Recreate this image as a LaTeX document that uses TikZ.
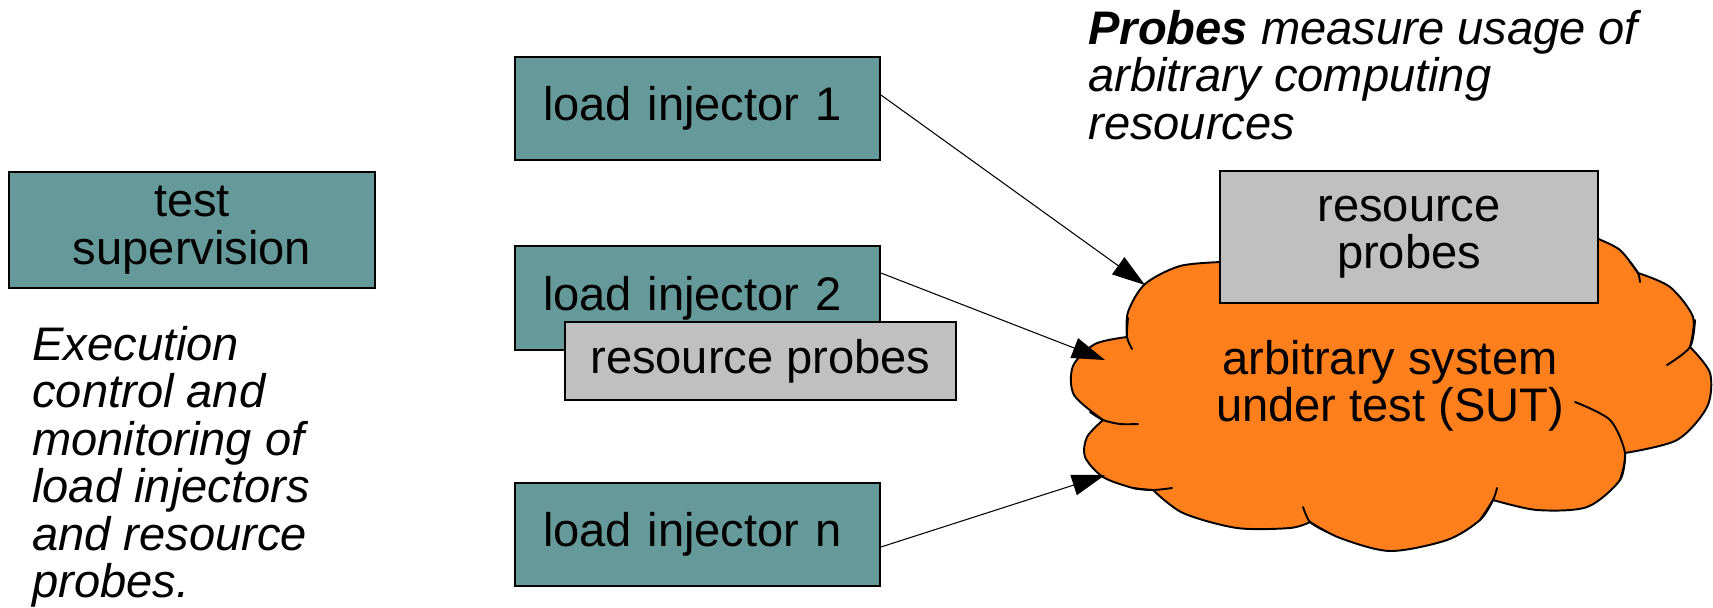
\documentclass[tikz,border=0pt]{standalone}
\usepackage{fontspec}
\setmainfont{Liberation Sans}
\usetikzlibrary{arrows.meta,calc}
\definecolor{injteal}{RGB}{102,153,153}
\definecolor{probegray}{RGB}{192,192,192}
\definecolor{sutorange}{RGB}{255,127,28}
\def\diagfont{\fontsize{26.8pt}{27pt}\selectfont}
\tikzset{
	box/.style={draw=black, line width=1.1pt, inner sep=0pt, font=\diagfont, align=center},
	supbox/.style={box, fill=injteal, minimum width=7.32cm, minimum height=2.32cm},
	injbox/.style={box, fill=injteal, inner xsep=0.56cm, text width=6.18cm, align=left, minimum height=2.07cm},
	probebox/.style={box, fill=probegray},
	note/.style={font=\diagfont\itshape, align=left, inner sep=0pt, anchor=north west},
	conn/.style={line width=0.6pt, -{Triangle[length=0.66cm, width=0.42cm]}},
	sutcloud/.style={fill=sutorange, draw=black, line width=1.1pt, line join=round},
	puff/.style={draw=black, line width=1.1pt, line cap=round}
}

\begin{document}
\begin{tikzpicture}[x=0.02cm, y=-0.02cm]
			%%%%% START %%%%%
			\useasboundingbox (0, 0) rectangle (1713, 608);
			
			\node[supbox] (ts) at (192, 230) {test\\supervision};
			\node[note] (tsnote) at (32, 326) {Execution\\control and\\monitoring of\\load injectors\\and resource\\probes.};
			
			\node[injbox] (li1) at (697.5, 108.5) {load injector 1};
			\node[injbox] (li2) at (697.5, 298) {load injector 2};
			\node[probebox, minimum width=7.82cm, minimum height=1.56cm] (rp2) at (760.5, 361) {resource probes};
			\node[injbox] (lin) at (697.5, 534.5) {load injector n};
			
			% the cloud
			\draw[sutcloud] plot[smooth] coordinates {(1222, 262) (1180, 266) (1145, 284) (1128, 312) (1127, 337)}
				-- plot[smooth] coordinates {(1127, 337) (1095, 344) (1073, 366) (1074, 395) (1103, 420)}
				-- plot[smooth] coordinates {(1103, 420) (1087, 437) (1085, 457) (1103, 477) (1133, 488) (1153, 490)}
				-- plot[smooth] coordinates {(1153, 490) (1183, 513) (1237, 528) (1290, 528) (1310, 522)}
				-- plot[smooth] coordinates {(1310, 522) (1340, 538) (1390, 551) (1447, 540) (1480, 520) (1493, 500)}
				-- plot[smooth] coordinates {(1493, 500) (1537, 510) (1587, 507) (1620, 480) (1625, 453)}
				-- plot[smooth] coordinates {(1625, 453) (1677, 440) (1707, 407) (1710, 373) (1690, 347)}
				-- plot[smooth] coordinates {(1690, 347) (1693, 317) (1670, 287) (1638, 273)}
				-- plot[smooth] coordinates {(1638, 273) (1620, 250) (1596, 238)}
				-- (1400, 245) -- cycle;
			\draw[puff] plot[smooth] coordinates {(1128, 318) (1127, 337) (1132, 349)};
			\draw[puff] plot[smooth] coordinates {(1090, 412) (1103, 420) (1120, 424) (1138, 424)};
			\draw[puff] plot[smooth] coordinates {(1133, 488) (1153, 490) (1172, 488)};
			\draw[puff] plot[smooth] coordinates {(1303, 507) (1310, 522) (1327, 532)};
			\draw[puff] plot[smooth] coordinates {(1480, 520) (1493, 500) (1497, 488)};
			\draw[puff] plot[smooth] coordinates {(1620, 480) (1625, 453) (1610, 420) (1575, 402)};
			\draw[puff] plot[smooth] coordinates {(1667, 365) (1690, 347) (1695, 320)};
			\draw[puff] plot[smooth] coordinates {(1630, 262) (1638, 273) (1640, 282)};
			
			\node[font=\diagfont, align=center] (sut) at (1390, 386) {arbitrary system\\under test (SUT)};
			\node[probebox, minimum width=7.56cm, minimum height=2.64cm] (rp1) at (1409, 237) {resource\\probes};
			\node[note] (rpnote) at (1088, 10) {\textbf{Probes} measure usage of\\arbitrary computing\\resources};
			
			\coordinate (in1) at (1145, 285);
			\coordinate (in2) at (1105, 360);
			\coordinate (inn) at (1105, 475);
			\draw[conn] ([yshift=0.27cm]li1.east) -- (in1);
			\draw[conn] ([yshift=0.5cm]li2.east) -- (in2);
			\draw[conn] ([yshift=-0.25cm]lin.east) -- (inn);
			%%%%% END %%%%%
\end{tikzpicture}
\end{document}
